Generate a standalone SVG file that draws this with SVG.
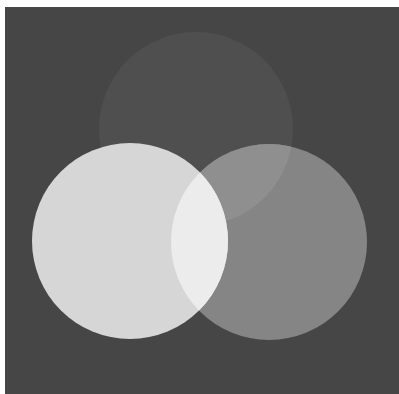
<svg xmlns="http://www.w3.org/2000/svg" width="399" height="394" viewBox="0 0 399 394">
<defs>
<clipPath id="cR"><circle cx="269" cy="242" r="98"/></clipPath>
<clipPath id="cL"><circle cx="130" cy="241" r="98"/></clipPath>
</defs>
<rect x="0" y="0" width="399" height="394" fill="#ffffff"/>
<rect x="5" y="7" width="394" height="387" fill="#464646"/>
<g id="top-circle"><circle cx="196" cy="129" r="97" fill="#4f4f4f"/></g>
<g id="right-circle">
<circle cx="269" cy="242" r="98" fill="#858585"/>
<circle cx="196" cy="129" r="97" fill="#8f8f8f" clip-path="url(#cR)"/>
</g>
<g id="left-circle">
<circle cx="130" cy="241" r="98" fill="#d6d6d6"/>
<circle cx="269" cy="242" r="98" fill="#ececec" clip-path="url(#cL)"/>
</g>
</svg>
